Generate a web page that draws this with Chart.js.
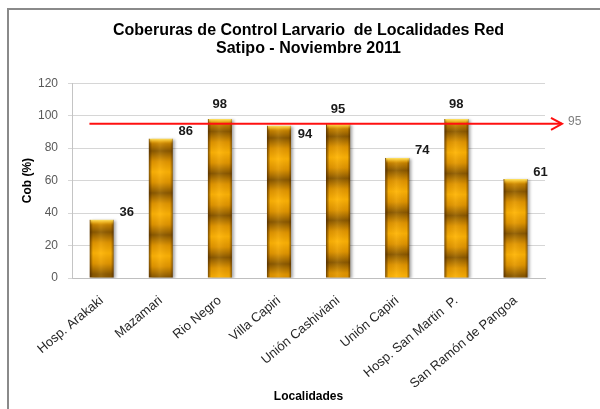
<!DOCTYPE html>
<html>
<head>
<meta charset="utf-8">
<script src="https://cdn.jsdelivr.net/npm/chart.js@4.4.1/dist/chart.umd.min.js"></script>
<style>
  html, body { margin: 0; padding: 0; background: #ffffff; }
  #wrap { width: 600px; height: 409px; position: relative; }
</style>
</head>
<body>
<div id="wrap"><canvas id="c" width="600" height="409"></canvas></div>
<script>
// ---- data ----
const categories = ['Hosp. Arakaki', 'Mazamari', 'Rio Negro', 'Villa Capiri', 'Unión Cashiviani', 'Unión Capiri', 'Hosp. San Martin  P.', 'San Ramón de Pangoa'];
const coverage = [36, 86, 98, 94, 95, 74, 98, 61];
const targetValue = 95;
const titleLines = ['Coberuras de Control Larvario  de Localidades Red', 'Satipo - Noviembre 2011'];
const yAxisTitle = 'Cob (%)';
const xAxisTitle = 'Localidades';
const yMin = 0, yMax = 120, yStep = 20;
// label placement style per bar
const labelPlacement = ['right', 'right', 'top', 'rightLow', 'top', 'right', 'top', 'right'];

const FONT = "'Liberation Sans', Arial, sans-serif";
const BAR_PCT = 0.41;

// ---- golden textured bar fill, built per bar from the scales ----
function barTexture(w, h) {
  const cv = document.createElement('canvas');
  cv.width = Math.max(1, Math.ceil(w));
  cv.height = Math.max(1, Math.ceil(h));
  const g = cv.getContext('2d');
  const period = 42;
  const vg = g.createLinearGradient(0, 0, 0, cv.height);
  const dark = '#8a5800', mid = '#e29600', bright = '#ffb405';
  const n = cv.height / period;
  const stops = [];
  for (let k = 0; k <= n + 1; k++) {
    const base = k * period;
    stops.push([base + period * 0.05, mid], [base + period * 0.3, dark], [base + period * 0.55, mid], [base + period * 0.8, bright]);
  }
  for (const [p, c] of stops) {
    const t = p / cv.height;
    if (t >= 0 && t <= 1) vg.addColorStop(t, c);
  }
  g.fillStyle = vg;
  g.fillRect(0, 0, cv.width, cv.height);
  // horizontal cylinder shading
  const hg = g.createLinearGradient(0, 0, cv.width, 0);
  hg.addColorStop(0, 'rgba(60,30,0,0.7)');
  hg.addColorStop(0.14, 'rgba(60,30,0,0.05)');
  hg.addColorStop(0.45, 'rgba(255,220,110,0.12)');
  hg.addColorStop(0.86, 'rgba(60,30,0,0.05)');
  hg.addColorStop(1, 'rgba(60,30,0,0.7)');
  g.fillStyle = hg;
  g.fillRect(0, 0, cv.width, cv.height);
  // top bevel
  const tg = g.createLinearGradient(0, 0, 0, 5);
  tg.addColorStop(0, 'rgba(255,232,110,1)');
  tg.addColorStop(1, 'rgba(255,200,40,0)');
  g.fillStyle = tg;
  g.fillRect(1, 0, cv.width - 2, 5);
  return cv;
}

function barFill(ctx) {
  const chart = ctx.chart;
  if (!chart.chartArea || !chart.scales.x || !chart.scales.y || ctx.dataIndex === undefined) return '#f0a000';
  const xs = chart.scales.x, ys = chart.scales.y;
  const i = ctx.dataIndex;
  const v = coverage[i];
  const cx = xs.getPixelForValue(i);
  const w = (xs.width / categories.length) * BAR_PCT;
  const top = ys.getPixelForValue(v);
  const bottom = ys.getPixelForValue(0);
  if (!isFinite(cx) || !isFinite(top) || bottom - top <= 0) return '#f0a000';
  const cv = barTexture(w, bottom - top);
  const pat = chart.ctx.createPattern(cv, 'no-repeat');
  pat.setTransform(new DOMMatrix().translate(cx - w / 2, top));
  return pat;
}

// ---- plugins ----
const framePlugin = {
  id: 'frame',
  beforeDraw(chart) {
    const c = chart.ctx;
    c.save();
    c.fillStyle = '#ffffff';
    c.fillRect(0, 0, chart.width, chart.height);
    c.strokeStyle = '#8a8a8a';
    c.lineWidth = 2;
    c.strokeRect(8, 9, chart.width + 40, chart.height + 40);
    c.restore();
  }
};

const shadowPlugin = {
  id: 'barShadow',
  beforeDatasetDraw(chart) {
    const c = chart.ctx;
    c.save();
    c.shadowColor = 'rgba(0,0,0,0.35)';
    c.shadowBlur = 3;
    c.shadowOffsetX = 2;
    c.shadowOffsetY = 1;
  },
  afterDatasetDraw(chart) {
    chart.ctx.restore();
  }
};

const labelsPlugin = {
  id: 'valueLabels',
  afterDatasetsDraw(chart) {
    const c = chart.ctx;
    const meta = chart.getDatasetMeta(0);
    c.save();
    c.font = "bold 13px " + FONT;
    c.fillStyle = '#1a1a1a';
    c.textAlign = 'center';
    c.textBaseline = 'middle';
    meta.data.forEach((bar, i) => {
      const half = bar.width / 2;
      let x, y;
      const p = labelPlacement[i];
      if (p === 'top') { x = bar.x; y = bar.y - 14; }
      else if (p === 'rightLow') { x = bar.x + half + 14; y = bar.y + 9; }
      else { x = bar.x + half + 13; y = bar.y - 7; }
      c.fillText(String(coverage[i]), x, y);
    });
    c.restore();
  }
};

const targetPlugin = {
  id: 'targetLine',
  afterDatasetsDraw(chart) {
    const c = chart.ctx;
    const xs = chart.scales.x, ys = chart.scales.y;
    const y = ys.getPixelForValue(targetValue);
    const w = (xs.width / categories.length) * BAR_PCT;
    const x0 = xs.getPixelForValue(0) - w / 2;
    const x1 = chart.chartArea.right + 17;
    c.save();
    c.strokeStyle = '#ff1010';
    c.lineWidth = 2;
    c.beginPath();
    c.moveTo(x0, y);
    c.lineTo(x1, y);
    c.stroke();
    c.beginPath();
    c.moveTo(x1 - 11, y - 6);
    c.lineTo(x1, y);
    c.lineTo(x1 - 11, y + 6);
    c.stroke();
    c.font = "12px " + FONT;
    c.fillStyle = '#7f7f7f';
    c.textAlign = 'left';
    c.textBaseline = 'middle';
    c.fillText(String(targetValue), x1 + 6, y - 2);
    c.restore();
  }
};

new Chart(document.getElementById('c'), {
  type: 'bar',
  data: {
    labels: categories,
    datasets: [{
      label: 'Cob (%)',
      data: coverage,
      backgroundColor: barFill,
      borderWidth: 0,
      barPercentage: BAR_PCT,
      categoryPercentage: 1
    }]
  },
  options: {
    responsive: false,
    animation: false,
    devicePixelRatio: 1,
    layout: { padding: { left: 10, right: 55, top: 0, bottom: 3 } },
    plugins: {
      legend: { display: false },
      tooltip: { enabled: false },
      title: {
        display: true,
        fullSize: false,
        text: titleLines,
        color: '#000000',
        font: { family: FONT, size: 16, weight: 'bold', lineHeight: 1.1 },
        padding: { top: 22, bottom: 26 }
      }
    },
    scales: {
      x: {
        grid: { display: false, drawTicks: false },
        border: { display: true, color: '#bfbfbf' },
        ticks: {
          autoSkip: false,
          maxRotation: 40,
          minRotation: 40,
          padding: 15,
          color: '#262626',
          font: { family: FONT, size: 13 }
        },
        title: {
          display: true,
          text: xAxisTitle,
          color: '#000000',
          font: { family: FONT, size: 12, weight: 'bold' },
          padding: { top: 0, bottom: 2 }
        },
        afterFit(scale) { scale.height = 409 - 3 - 278; }
      },
      y: {
        min: yMin,
        max: yMax,
        ticks: {
          stepSize: yStep,
          padding: 10,
          color: '#595959',
          font: { family: FONT, size: 12 }
        },
        grid: { color: '#d6d6d6', tickLength: 4, lineWidth: 1 },
        border: { display: true, color: '#c4c4c4' },
        title: {
          display: true,
          text: yAxisTitle,
          color: '#000000',
          font: { family: FONT, size: 12, weight: 'bold' },
          padding: { top: 10, bottom: 0 }
        },
        afterFit(scale) { scale.width = 72 - 10; }
      }
    }
  },
  plugins: [framePlugin, shadowPlugin, labelsPlugin, targetPlugin]
});
</script>
</body>
</html>
